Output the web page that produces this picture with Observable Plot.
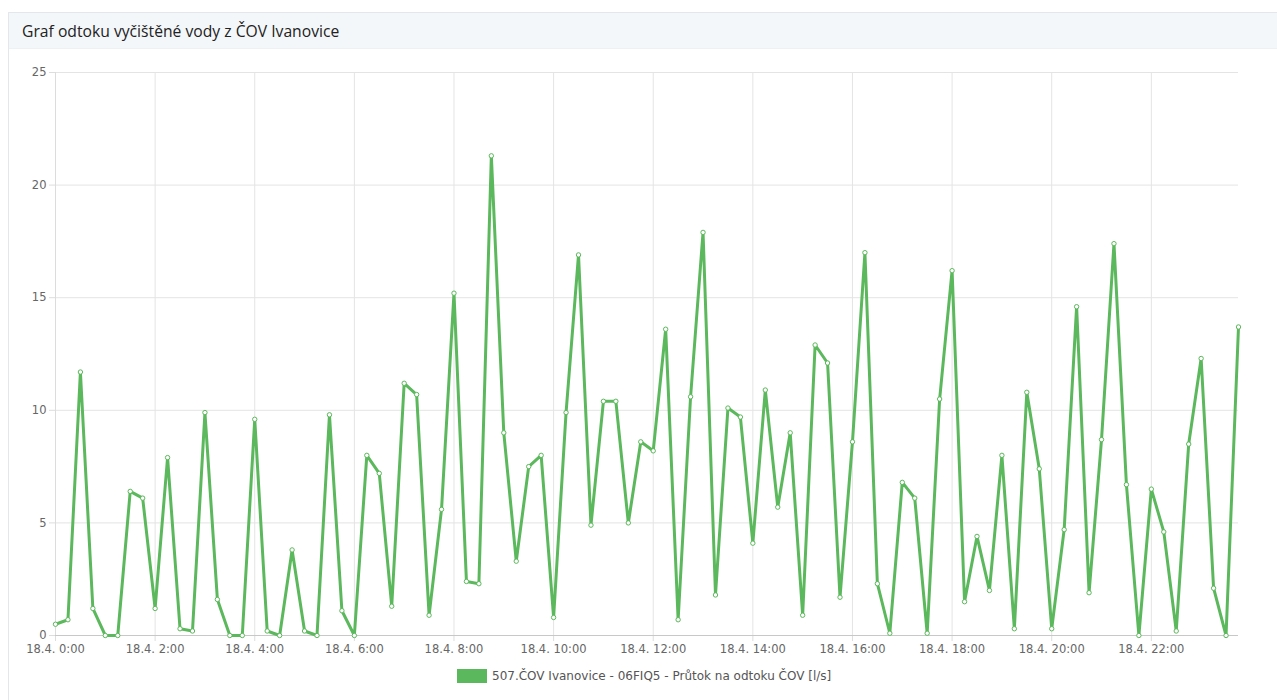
<!DOCTYPE html>
<html>
<head>
<meta charset="utf-8">
<script src="https://cdn.jsdelivr.net/npm/d3@7"></script>
<script src="https://cdn.jsdelivr.net/npm/@observablehq/plot@0.6"></script>
<style>
  html, body { margin: 0; padding: 0; background: #fff; width: 1277px; height: 700px; overflow: hidden; }
  #card { position: absolute; left: 8px; top: 12px; width: 1300px; height: 700px; border-left: 1px solid #e3e6ea; border-top: 1px solid #e3e6ea; }
  #hdr { position: absolute; left: 0; top: 0; right: 0; height: 35px; background: #f4f7fa; border-bottom: 1px solid #eef1f4; }
  #title { position: absolute; left: 13px; top: 7px; font: 15.7px "Open Sans", sans-serif; color: #222; }
  #chart { position: absolute; left: 0; top: 48px; }
  #legend { position: absolute; left: 457px; top: 669px; font: 12px "DejaVu Sans", sans-serif; color: #555; display: flex; align-items: center; white-space: nowrap; }
  #legend .sw { width: 30px; height: 14px; background: #5cb85c; margin-right: 5px; }
</style>
</head>
<body>
<div id="card"><div id="hdr"><div id="title">Graf odtoku vyčištěné vody z ČOV Ivanovice</div></div></div>
<div id="chart"></div>
<div id="legend"><div class="sw"></div><span id="legtxt"></span></div>
<script>
const seriesName = "507.ČOV Ivanovice - 06FIQ5 - Průtok na odtoku ČOV [l/s]";
const startTime = "2024-04-18T00:00:00Z";
const stepMinutes = 15;
const flow = [
  0.5, 0.7, 11.7, 1.2, 0.0, 0.0, 6.4, 6.1,
  1.2, 7.9, 0.3, 0.2, 9.9, 1.6, 0.0, 0.0,
  9.6, 0.2, 0.0, 3.8, 0.2, 0.0, 9.8, 1.1,
  0.0, 8.0, 7.2, 1.3, 11.2, 10.7, 0.9, 5.6,
  15.2, 2.4, 2.3, 21.3, 9.0, 3.3, 7.5, 8.0,
  0.8, 9.9, 16.9, 4.9, 10.4, 10.4, 5.0, 8.6,
  8.2, 13.6, 0.7, 10.6, 17.9, 1.8, 10.1, 9.7,
  4.1, 10.9, 5.7, 9.0, 0.9, 12.9, 12.1, 1.7,
  8.6, 17.0, 2.3, 0.1, 6.8, 6.1, 0.1, 10.5,
  16.2, 1.5, 4.4, 2.0, 8.0, 0.3, 10.8, 7.4,
  0.3, 4.7, 14.6, 1.9, 8.7, 17.4, 6.7, 0.0,
  6.5, 4.6, 0.2, 8.5, 12.3, 2.1, 0.0, 13.7
];
const yTicks = [0, 5, 10, 15, 20, 25];
const xTickHours = [0, 2, 4, 6, 8, 10, 12, 14, 16, 18, 20, 22];

const t0 = new Date(startTime).getTime();
const data = flow.map((v, i) => ({ t: new Date(t0 + i * stepMinutes * 60000), v }));
const xTicks = xTickHours.map(h => new Date(t0 + h * 3600000));
const color = "#5cb85c";

const plot = Plot.plot({
  width: 1277,
  height: 615,
  marginLeft: 55,
  marginRight: 39,
  marginTop: 24,
  marginBottom: 28,
  style: { fontFamily: "DejaVu Sans, sans-serif", fontSize: "11.5px", color: "#666", background: "transparent" },
  x: { type: "utc", domain: [data[0].t, data[data.length - 1].t], ticks: xTicks, tickFormat: d => `18.4. ${d.getUTCHours()}:00`, label: null, tickSize: 5, tickPadding: 4 },
  y: { domain: [0, 25], ticks: yTicks, label: null, tickSize: 7, tickPadding: 3 },
  marks: [
    Plot.gridX(xTicks, { stroke: "#e4e4e4", strokeOpacity: 1 }),
    Plot.gridY(yTicks, { stroke: "#e4e4e4", strokeOpacity: 1 }),
    Plot.ruleX([data[0].t], { stroke: "#dcdcdc" }),
    Plot.axisX({ ticks: xTicks, tickFormat: d => `18.4. ${d.getUTCHours()}:00`, stroke: "#ddd", fill: "#666" }),
    Plot.axisY({ ticks: yTicks, stroke: "#ddd", fill: "#666" }),
    Plot.ruleY([0], { stroke: "#c8c8c8" }),
    Plot.line(data, { x: "t", y: "v", stroke: color, strokeWidth: 3, curve: "linear" }),
    Plot.dot(data, { x: "t", y: "v", r: 2.2, fill: "white", stroke: color, strokeWidth: 1 })
  ]
});
document.getElementById("chart").appendChild(plot);
document.getElementById("legtxt").textContent = seriesName;
</script>
</body>
</html>
